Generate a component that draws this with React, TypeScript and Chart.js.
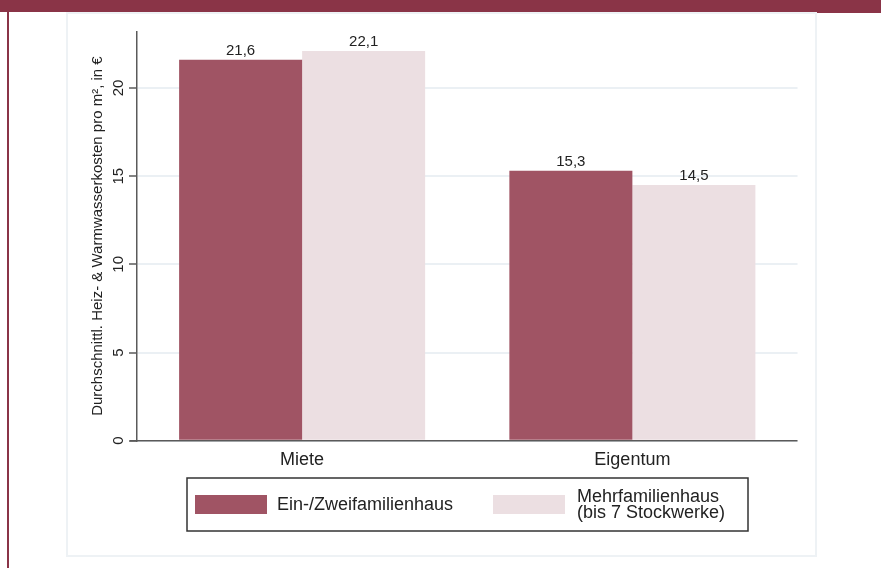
import React, { useEffect, useRef } from "react";
import { Chart, registerables } from "chart.js";

Chart.register(...registerables);

const categories = ["Miete", "Eigentum"];
const einZweifamilienhaus = [21.6, 15.3];
const mehrfamilienhaus = [22.1, 14.5];
const seriesLabels = ["Ein-/Zweifamilienhaus", "Mehrfamilienhaus (bis 7 Stockwerke)"];
const legendLines = [["Ein-/Zweifamilienhaus"], ["Mehrfamilienhaus", "(bis 7 Stockwerke)"]];
const yTickValues = [0, 5, 10, 15, 20];
const yTitle = "Durchschnittl. Heiz- & Warmwasserkosten pro m², in €";

const FONT = "'Liberation Sans', Arial, sans-serif";
const MAROON = "#8a3447";
const DARK = "#a05464";
const LIGHT = "#ecdfe2";
const TEXT = "#222222";
const AXIS = "#5a5a5a";

const fmt = (v: number) => v.toFixed(1).replace(".", ",");

const decorPlugin = {
  id: "decor",
  beforeDraw(chart: any) {
    const ctx = chart.ctx;
    const W = chart.width;
    const H = chart.height;
    ctx.save();
    ctx.fillStyle = "#ffffff";
    ctx.fillRect(0, 0, W, H);
    // maroon frame
    ctx.fillStyle = MAROON;
    ctx.fillRect(0, 0, W, 12);
    ctx.fillRect(817, 12, W - 817, 1);
    ctx.fillRect(7, 12, 2, H - 12);
    // panel border
    ctx.strokeStyle = "#eef2f5";
    ctx.lineWidth = 2;
    ctx.strokeRect(67, 13, 749, 543);
    ctx.restore();
  },
  afterDraw(chart: any) {
    const ctx = chart.ctx;
    const ys = chart.scales.y;
    const area = chart.chartArea;
    ctx.save();
    // x axis line (extends a bit left of the y axis)
    const y0 = ys.getPixelForValue(0);
    ctx.strokeStyle = AXIS;
    ctx.lineWidth = 1.5;
    ctx.beginPath();
    ctx.moveTo(area.left - 7, y0);
    ctx.lineTo(area.right, y0);
    ctx.stroke();

    // y tick labels, rotated
    ctx.fillStyle = TEXT;
    ctx.font = `15px ${FONT}`;
    ctx.textAlign = "center";
    ctx.textBaseline = "middle";
    ys.ticks.forEach((t: any) => {
      const y = ys.getPixelForValue(t.value);
      ctx.save();
      ctx.translate(area.left - 18.5, y);
      ctx.rotate(-Math.PI / 2);
      ctx.fillText(String(t.value), 0, 0);
      ctx.restore();
    });

    // y axis title
    ctx.save();
    ctx.font = `15px ${FONT}`;
    ctx.translate(area.left - 39, (area.top + area.bottom) / 2);
    ctx.rotate(-Math.PI / 2);
    ctx.fillText(yTitle, 0, 0);
    ctx.restore();

    // value labels
    ctx.font = `15px ${FONT}`;
    ctx.textAlign = "center";
    ctx.textBaseline = "alphabetic";
    chart.data.datasets.forEach((ds: any, i: number) => {
      const meta = chart.getDatasetMeta(i);
      meta.data.forEach((bar: any, j: number) => {
        ctx.fillText(fmt(ds.data[j]), bar.x, bar.y - 5);
      });
    });

    // legend box
    ctx.strokeStyle = "#333333";
    ctx.lineWidth = 1.5;
    ctx.strokeRect(187, 478, 561, 53);
    const items = [
      { sx: 195, tx: 277 },
      { sx: 493, tx: 577 },
    ];
    ctx.font = `18px ${FONT}`;
    ctx.textAlign = "left";
    ctx.textBaseline = "middle";
    chart.data.datasets.forEach((ds: any, i: number) => {
      const it = items[i];
      ctx.fillStyle = ds.backgroundColor;
      ctx.fillRect(it.sx, 495, 72, 19);
      ctx.fillStyle = TEXT;
      const lines = legendLines[i];
      const lh = 16;
      const cy = 505.3;
      lines.forEach((ln, k) => {
        ctx.fillText(ln, it.tx, cy + (k - (lines.length - 1) / 2) * lh);
      });
    });
    ctx.restore();
  },
};

export default function App() {
  const ref = useRef<HTMLCanvasElement>(null);
  useEffect(() => {
    if (!ref.current) return;
    const chart = new Chart(ref.current, {
      type: "bar",
      data: {
        labels: categories,
        datasets: [
          {
            label: seriesLabels[0],
            data: einZweifamilienhaus,
            backgroundColor: DARK,
            borderWidth: 0,
            categoryPercentage: 0.745,
            barPercentage: 1,
          },
          {
            label: seriesLabels[1],
            data: mehrfamilienhaus,
            backgroundColor: LIGHT,
            borderWidth: 0,
            categoryPercentage: 0.745,
            barPercentage: 1,
          },
        ],
      },
      options: {
        responsive: false,
        animation: false,
        devicePixelRatio: 1,
        layout: { padding: { left: 129, right: 83.5, top: 31.5, bottom: 0 } },
        plugins: {
          legend: { display: false },
          tooltip: { enabled: false },
          title: { display: false },
        },
        scales: {
          x: {
            grid: { display: false, drawTicks: false },
            border: { display: false },
            ticks: {
              color: TEXT,
              font: { family: FONT, size: 18 },
              padding: 9,
            },
            afterFit: (s: any) => {
              s.height = 127.3;
            },
          },
          y: {
            min: 0,
            max: 23.2,
            afterBuildTicks: (s: any) => {
              s.ticks = yTickValues.map((v) => ({ value: v }));
            },
            ticks: { display: false, includeBounds: false },
            grid: {
              color: "#ebf0f4",
              lineWidth: 2,
              tickLength: 8,
              drawTicks: true,
              tickColor: AXIS,
              tickWidth: 1.5,
            },
            border: { display: true, color: AXIS, width: 1.5 },
            afterFit: (s: any) => {
              s.width = 8;
            },
          },
        },
      },
      plugins: [decorPlugin],
    });
    return () => chart.destroy();
  }, []);
  return (
    <div style={{ position: "fixed", left: 0, top: 0, width: 881, height: 568 }}>
      <canvas ref={ref} width={881} height={568} style={{ display: "block" }} />
    </div>
  );
}
